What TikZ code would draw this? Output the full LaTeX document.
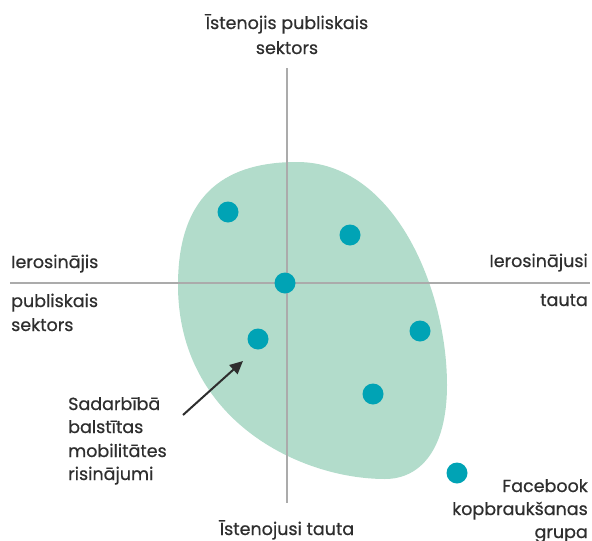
\documentclass[tikz,border=0pt]{standalone}
\usepackage{fontspec}
\setmainfont{Poppins}[FakeBold=0.6]
\usetikzlibrary{arrows.meta}
\definecolor{blob}{HTML}{B2DCCB}
\definecolor{dotc}{HTML}{00A3B5}
\definecolor{axisc}{HTML}{ABABAB}
\definecolor{txt}{HTML}{2E2E2E}
\begin{document}
\begin{tikzpicture}[x=1pt,y=-1pt,
  lbl/.style={text=txt,font=\fontsize{17.5}{24}\selectfont,inner sep=0pt},
  dotn/.style={circle,fill=dotc,minimum size=21pt,inner sep=0pt},
  axisline/.style={draw=axisc,line width=2pt}]
\useasboundingbox (0,0) rectangle (592,541);
% blob
\fill[blob] (297,162)
  .. controls (395,162) and (447,290) .. (447,385)
  .. controls (447,450) and (420,479) .. (385,479)
  .. controls (300,479) and (178,420) .. (178,285)
  .. controls (178,190) and (230,162) .. cycle;
% axes
\coordinate (vt) at (287,68);
\coordinate (vb) at (287,503);
\coordinate (hl) at (10,283);
\coordinate (hr) at (590,283);
\draw[axisline] (vt) -- (vb);
\draw[axisline] (hl) -- (hr);
% dots
\node[dotn] (d1) at (228,212) {};
\node[dotn] (d2) at (350,235) {};
\node[dotn] (d3) at (285,283) {};
\node[dotn] (d4) at (258,339) {};
\node[dotn] (d5) at (420,331) {};
\node[dotn] (d6) at (373,394) {};
\node[dotn] (d7) at (457,473) {};
% labels
\node[lbl,anchor=base] (top1) at (287,29) {Īstenojis publiskais};
\node[lbl,anchor=base] (top2) at (287,54) {sektors};
\node[lbl,anchor=base] (bot) at (287,535) {Īstenojusi tauta};
\node[lbl,anchor=base west] (l1) at (11,268) {Ierosinājis};
\node[lbl,anchor=base west] (l2) at (11,307) {publiskais};
\node[lbl,anchor=base west] (l3) at (11,331) {sektors};
\node[lbl,anchor=base east] (r1) at (588,267) {Ierosinājusi};
\node[lbl,anchor=base east] (r2) at (588,306) {tauta};
\node[lbl,anchor=base west] (s1) at (68,410) {Sadarbībā};
\node[lbl,anchor=base west] (s2) at (68,433) {balstītas};
\node[lbl,anchor=base west] (s3) at (68,457) {mobilitātes};
\node[lbl,anchor=base west] (s4) at (68,480) {risinājumi};
\node[lbl,anchor=base east] (f1) at (588,492) {Facebook};
\node[lbl,anchor=base east] (f2) at (588,515) {kopbraukšanas};
\node[lbl,anchor=base east] (f3) at (588,538) {grupa};
% arrow
\coordinate (as) at (183,415);
\coordinate (ae) at (243,361);
\draw[txt,line width=2pt,-{Triangle[length=13pt,width=12pt]}] (as) -- (ae);
\end{tikzpicture}
\end{document}
